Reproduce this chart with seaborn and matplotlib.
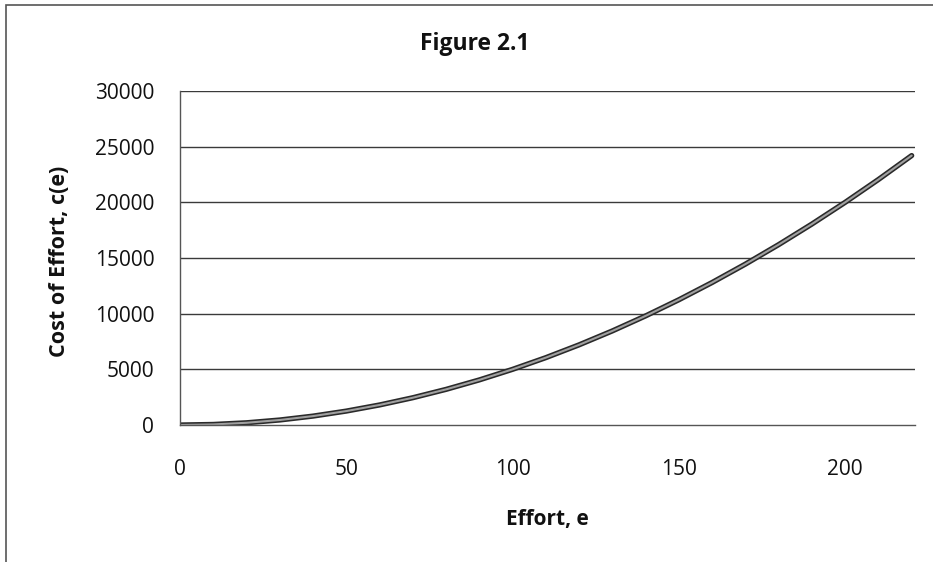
import matplotlib
matplotlib.use("Agg")
import matplotlib.pyplot as plt
import seaborn as sns
import pandas as pd
from matplotlib.patches import Rectangle

# Effort levels and the cost of effort at each level
effort = [0, 10, 20, 30, 40, 50, 60, 70, 80, 90, 100, 110, 120, 130, 140,
          150, 160, 170, 180, 190, 200, 210, 220]
cost = [0, 50, 200, 450, 800, 1250, 1800, 2450, 3200, 4050, 5000, 6050, 7200,
        8450, 9800, 11250, 12800, 14450, 16200, 18050, 20000, 22050, 24200]

x_ticks = [0, 50, 100, 150, 200]
y_ticks = [0, 5000, 10000, 15000, 20000, 25000, 30000]

title = "Figure 2.1"
x_label = "Effort, e"
y_label = "Cost of Effort, c(e)"

df = pd.DataFrame({"effort": effort, "cost": cost})

sns.set_theme(style="white")
plt.rcParams["font.family"] = ["Open Sans", "DejaVu Sans"]

W, H = 933, 562
fig = plt.figure(figsize=(W / 100, H / 100), dpi=100)
fig.patch.set_facecolor("white")

# chart-area frame (left and top edges visible)
fig.add_artist(Rectangle((6 / W, -0.05), 1.1, 1 - 5 / H + 0.05,
                         transform=fig.transFigure, fill=False,
                         edgecolor="#555555", linewidth=1.2))

left, right, top, bottom = 180, 915, 91, 425
ax = fig.add_axes([left / W, 1 - bottom / H, (right - left) / W,
                   (bottom - top) / H])

# dark outline with a grey core
sns.lineplot(data=df, x="effort", y="cost", ax=ax, color="#2a2a2a",
             linewidth=3.8, solid_capstyle="round")
sns.lineplot(data=df, x="effort", y="cost", ax=ax, color="#a0a0a0",
             linewidth=1.5, solid_capstyle="round")

ax.set_xlim(0, 221)
ax.set_ylim(0, 30000)
ax.set_xticks(x_ticks)
ax.set_yticks(y_ticks)
ax.set_xticklabels([str(v) for v in x_ticks])
ax.set_yticklabels([str(v) for v in y_ticks])

for v in y_ticks[1:]:
    ax.axhline(v, color="#3a3a3a", linewidth=1.0, zorder=0)

for side in ["top", "right"]:
    ax.spines[side].set_visible(False)
for side in ["left", "bottom"]:
    ax.spines[side].set_visible(True)
    ax.spines[side].set_color("#555555")
    ax.spines[side].set_linewidth(1.0)

ax.tick_params(axis="both", which="major", direction="out", length=5.5,
               width=1.0, color="#555555", labelsize=15, labelcolor="#111111")
ax.tick_params(axis="x", pad=19)
ax.tick_params(axis="y", pad=13)

ax.set_xlabel("")
ax.set_ylabel("")

fig.text(475 / W, 1 - 44 / H, title, ha="center", va="center",
         fontsize=16.5, fontweight="bold", color="#111111")
fig.text((left + right) / 2 / W, 1 - 519 / H, x_label, ha="center",
         va="center", fontsize=15, fontweight="bold", color="#111111")
fig.text(60 / W, 1 - 261 / H, y_label, ha="center", va="center",
         rotation=90, fontsize=15.5, fontweight="bold", color="#111111")

fig.savefig("out.png", dpi=100, facecolor="white")
